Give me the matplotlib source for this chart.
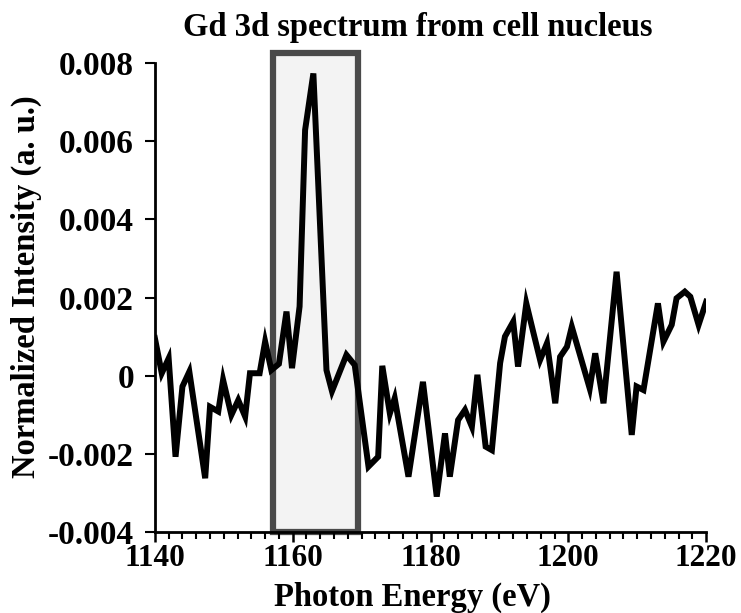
import matplotlib.pyplot as plt
from matplotlib.patches import Rectangle
from matplotlib.ticker import MultipleLocator

plt.rcParams['font.family'] = ['Liberation Serif', 'DejaVu Serif']
plt.rcParams['font.weight'] = 'bold'

# Gd 3d spectrum, vertices
energy = [1140, 1141, 1142, 1143, 1144, 1145, 1147.3, 1148, 1149.2, 1149.9,
          1151.1, 1152.1, 1153.1, 1153.8, 1155.2, 1156, 1156.9, 1158, 1159.1,
          1159.9, 1161, 1161.8, 1163, 1164.9, 1165.7, 1167.8, 1169, 1171,
          1172.4, 1173, 1174.1, 1174.8, 1176.8, 1178.9, 1180.9, 1182.1,
          1182.8, 1184, 1185, 1186, 1186.8, 1188, 1188.9, 1190.1, 1190.8,
          1192, 1192.7, 1193.9, 1194.9, 1195.9, 1196.9, 1198.1, 1198.8,
          1199.8, 1200.5, 1203.1, 1203.9, 1205.1, 1207, 1209.2, 1209.9,
          1210.9, 1213, 1213.8, 1215, 1215.7, 1216.9, 1217.7, 1218.9, 1220]
intensity = [0.00096, 0.00006, 0.00044, -0.00208, -0.00028, 0.0001, -0.00263,
             -0.0008, -0.00092, -0.00011, -0.00101, -0.00063, -0.00105,
             0.00006, 0.00006, 0.00087, 0.00014, 0.00030, 0.00164, 0.00019,
             0.00177, 0.00629, 0.00774, 0.00014, -0.0004, 0.00053, 0.00027,
             -0.00233, -0.00208, 0.00025, -0.00097, -0.00058, -0.00259,
             -0.00016, -0.0031, -0.00148, -0.00259, -0.00114, -0.00088,
             -0.00131, 0.00002, -0.00182, -0.00191, 0.00032, 0.001, 0.00138,
             0.00023, 0.00185, 0.00112, 0.0004, 0.00083, -0.00071, 0.00048,
             0.00074, 0.00125, -0.00033, 0.00057, -0.00071, 0.00266,
             -0.00152, -0.00028, -0.00037, 0.00185, 0.00087, 0.0013, 0.00198,
             0.00215, 0.00202, 0.0013, 0.00189]

# highlighted energy window
window = (1157.1, 1169.5)
window_top = 0.00826

yticks = [-0.004, -0.002, 0, 0.002, 0.004, 0.006, 0.008]
ytick_labels = ['-0.004', '-0.002', '0', '0.002', '0.004', '0.006', '0.008']
xticks = [1140, 1160, 1180, 1200, 1220]

fig = plt.figure(figsize=(7.41, 6.13), dpi=100)
ax = fig.add_axes([0.209, 0.1326, 0.744, 0.796])

ax.add_patch(Rectangle((window[0], -0.004), window[1] - window[0],
                       window_top + 0.004, facecolor='#f3f3f3',
                       edgecolor='#4a4a4a', linewidth=4.5, zorder=1,
                       clip_on=False))

ax.plot(energy, intensity, color='black', linewidth=4.3, zorder=3,
        solid_joinstyle='miter')

ax.set_xlim(1140, 1220)
ax.set_ylim(-0.004, 0.0085)
ax.spines['top'].set_visible(False)
ax.spines['right'].set_visible(False)
ax.spines['left'].set_bounds(-0.004, 0.008)
ax.spines['left'].set_linewidth(2)
ax.spines['bottom'].set_linewidth(2)

ax.set_yticks(yticks)
ax.set_yticklabels(ytick_labels)
ax.set_xticks(xticks)
ax.xaxis.set_minor_locator(MultipleLocator(2))
ax.tick_params(axis='y', direction='out', length=7, width=1.5,
               labelsize=24, pad=8)
ax.tick_params(axis='x', which='major', direction='out', length=7,
               width=1.8, labelsize=22.5, pad=2)
ax.tick_params(axis='x', which='minor', direction='out', length=5,
               width=1.5)

fig.text(0.564, 0.955, 'Gd 3d spectrum from cell nucleus', ha='center',
         va='center', fontsize=23.5, fontweight='bold')
fig.text(0.557, 0.026, 'Photon Energy (eV)', ha='center', va='center',
         fontsize=23.5, fontweight='bold')
fig.text(0.036, 0.532, 'Normalized Intensity (a. u.)', ha='center',
         va='center', rotation=90, fontsize=23.5, fontweight='bold')

fig.savefig('out.png', dpi=100)
